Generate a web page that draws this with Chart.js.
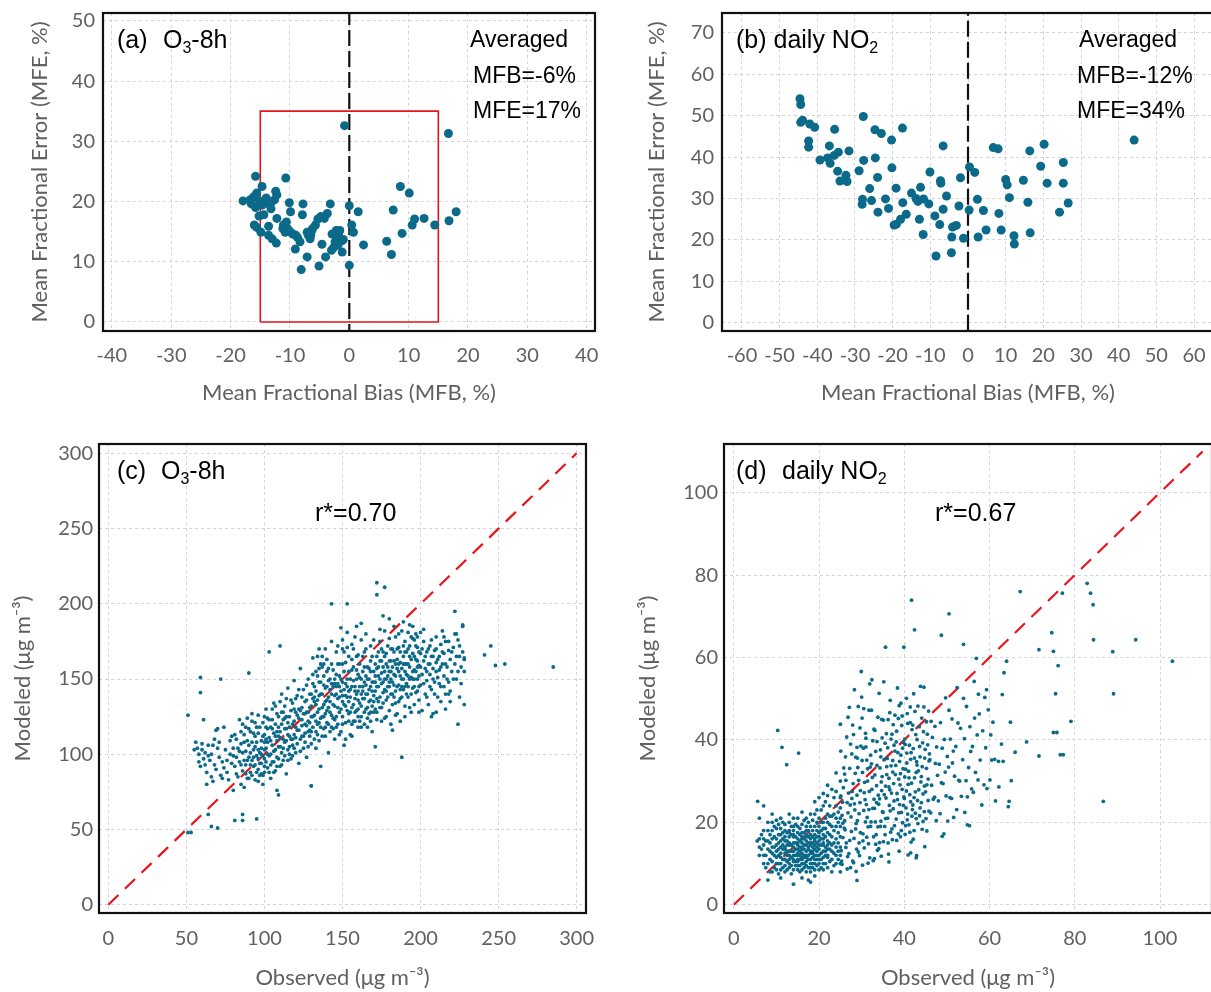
<!DOCTYPE html>
<html><head><meta charset="utf-8">
<script src="https://cdn.jsdelivr.net/npm/chart.js@4.4.1/dist/chart.umd.min.js"></script>
<style>
html,body{margin:0;padding:0;background:#fff;overflow:hidden;width:1211px;height:992px;position:relative;}
canvas{position:absolute;}
</style></head><body>
<canvas id="ca" style="left:0;top:0" width="605" height="410"></canvas>
<canvas id="cb" style="left:605px;top:0" width="620" height="410"></canvas>
<canvas id="cc" style="left:0;top:420px" width="605" height="572"></canvas>
<canvas id="cd" style="left:605px;top:420px" width="620" height="572"></canvas>
<script>
// ---------------- DATA ----------------
// (a) O3-8h: per-site [MFB %, MFE %]
const o3SiteBiasError = [
[-15.8,24.2],[-10.7,23.9],[-14.7,22.5],[-12.4,21.7],[-17.9,20.1],[-16.7,20.3],[-16.1,20.8],[-15.6,21.4],
[-15.1,20.0],[-14.4,19.8],[-13.9,19.7],[-13.2,19.8],[-12.6,20.3],[-12.2,21.1],[-15.8,19.0],[-14.7,19.4],
[-13.2,18.8],[-15.2,17.6],[-14.4,17.8],[-12.2,17.2],[-16.0,16.1],[-15.6,15.7],[-14.9,14.9],[-13.6,15.9],
[-13.6,14.4],[-13.0,13.8],[-12.3,13.1],[-10.1,19.8],[-9.9,18.3],[-10.6,16.6],[-11.1,16.1],[-10.4,15.5],
[-9.9,14.9],[-10.8,14.9],[-9.0,14.4],[-8.7,14.0],[-8.3,13.3],[-9.1,12.1],[-7.8,19.6],[-7.9,17.8],
[-7.1,14.9],[-6.9,14.4],[-6.6,13.8],[-6.3,15.2],[-5.7,16.1],[-5.3,17.1],[-4.8,17.5],[-4.2,17.2],
[-3.7,18.0],[-3.2,19.6],[-7.1,10.8],[-8.1,8.7],[-5.1,9.3],[-4.6,12.9],[-4.0,10.8],[-3.0,11.9],
[-2.6,12.4],[-2.4,13.3],[-2.1,14.0],[-1.8,14.7],[-2.2,15.2],[-1.6,15.2],[-1.2,13.5],[-1.0,13.7],
[-1.2,11.6],[0.0,19.3],[0.4,16.1],[0.7,14.9],[0.0,9.4],[1.5,18.3],[2.4,12.8],[6.3,13.4],
[7.1,11.2],[7.4,18.6],[8.6,22.5],[10.1,21.4],[8.9,14.7],[10.6,16.1],[11.0,17.1],[12.6,17.2],
[14.4,16.1],[16.8,16.8],[18.0,18.3],[-0.8,32.6],[16.7,31.3],[-11.2,15.5],[-10.2,15.2],[-9.5,14.6],
[-6.2,15.5],[-6.5,14.4],[-2.9,14.6],[-1.9,12.8],[-16.5,19.6],[-14.0,20.6]
];
// (b) daily NO2: per-site [MFB %, MFE %]
const no2SiteBiasError = [
[-44.6,54.1],[-44.4,52.7],[-43.9,48.9],[-44.4,48.4],[-42.0,48.0],[-40.7,47.2],[-42.3,43.9],[-42.3,42.4],
[-39.3,39.3],[-37.3,39.8],[-36.8,42.7],[-36.6,38.5],[-35.4,46.7],[-35.5,40.4],[-34.4,41.2],[-34.6,36.6],
[-34.0,34.2],[-32.4,35.6],[-32.1,34.1],[-31.6,41.5],[-28.9,36.7],[-27.8,49.8],[-27.7,39.2],[-28.0,29.8],
[-28.1,28.6],[-26.1,32.4],[-25.6,29.5],[-24.7,46.6],[-24.6,39.8],[-24.0,35.1],[-23.9,26.7],[-23.0,45.7],
[-21.9,29.9],[-21.1,27.6],[-20.3,44.1],[-20.2,37.4],[-19.6,23.6],[-19.0,23.8],[-19.1,32.5],[-17.9,25.0],
[-17.4,47.0],[-17.3,29.0],[-16.4,26.2],[-15.0,31.3],[-13.8,30.0],[-13.3,29.3],[-12.6,32.7],[-12.9,25.0],
[-11.9,21.3],[-11.8,29.9],[-10.4,28.7],[-10.1,36.4],[-8.8,25.8],[-8.5,16.1],[-7.5,23.7],[-7.3,34.3],
[-7.2,33.7],[-6.6,42.7],[-6.6,27.4],[-5.7,30.6],[-4.3,20.7],[-4.4,16.9],[-4.1,23.1],[-3.1,23.5],
[-2.4,28.2],[-2.0,35.0],[-1.2,20.4],[0.4,37.6],[0.3,27.2],[1.8,36.3],[2.5,29.8],[2.7,20.7],
[4.1,27.1],[4.8,22.4],[6.7,42.3],[8.0,42.0],[8.2,26.4],[8.8,22.4],[10.0,34.6],[10.4,33.3],
[11.0,30.2],[12.2,21.0],[12.3,19.0],[14.7,34.4],[15.9,29.1],[16.4,41.5],[16.5,21.7],[19.3,37.8],
[20.2,43.1],[21.0,33.7],[24.3,26.7],[25.3,38.7],[25.3,33.7],[26.6,28.9],[44.1,44.1]
];
// (c) O3-8h: [observed, modeled] ug/m3
const o3ObsMod = [
[51,126],[56,108],[57,104],[58,100],[59,92],[60,103],[61,97],[62,101],[63,80],[64,106],[65,96],[66,85],[66,100],[67,82],[68,93],[69,116],[70,104],[71,98],[72,86],[73,95],[74,91],[75,103],[76,88],[77,83],[78,109],[79,94],[80,76],[80,99],[81,113],[82,87],[83,104],[84,95],[84,123],[85,80],[85,115],[86,89],[86,101],[87,78],[87,108],[88,118],[88,93],[89,84],[89,124],[90,98],[90,154],[90,106],[91,88],[91,115],[92,96],[92,122],[93,92],[93,103],[94,83],[94,112],[95,99],[95,118],[96,90],[96,126],[97,86],[97,101],[98,109],[98,94],[99,80],[99,121],[100,97],[100,88],[100,113],[101,104],[101,130],[102,91],[102,117],[103,99],[103,168],[104,84],[104,109],[105,123],[105,95],[106,102],[106,134],[107,112],[107,89],[108,98],[108,127],[109,118],[109,105],[110,92],[110,172],[110,115],[111,140],[111,101],[112,123],[112,96],[113,108],[113,132],[114,117],[114,87],[115,103],[115,144],[116,112],[116,125],[117,97],[117,136],[118,120],[118,106],[119,113],[119,149],[120,128],[120,101],[121,116],[121,139],[122,94],[122,124],[123,110],[123,157],[124,131],[124,119],[125,104],[125,143],[126,114],[126,127],[127,136],[127,98],[128,122],[128,150],[129,112],[129,131],[130,107],[130,140],[130,79],[131,118],[131,164],[132,126],[132,145],[133,115],[133,133],[134,120],[134,152],[135,109],[135,139],[135,170],[136,124],[136,92],[137,131],[137,158],[138,117],[138,146],[139,127],[139,112],[140,136],[140,163],[140,121],[141,101],[141,149],[142,128],[142,115],[143,140],[143,175],[144,124],[144,156],[145,132],[145,110],[146,145],[146,168],[147,120],[147,137],[148,128],[148,152],[149,115],[149,184],[150,139],[150,125],[150,160],[151,133],[151,106],[152,147],[152,121],[153,171],[153,138],[154,127],[154,155],[155,143],[155,113],[156,131],[156,163],[157,122],[157,149],[158,137],[158,178],[159,129],[159,156],[160,142],[160,118],[160,166],[161,134],[161,151],[162,125],[162,187],[163,145],[163,137],[164,158],[164,120],[165,140],[165,170],[166,131],[166,150],[167,143],[167,127],[168,162],[168,136],[169,148],[169,115],[170,155],[170,139],[170,176],[171,130],[171,160],[172,145],[172,123],[173,152],[173,168],[174,138],[174,183],[175,147],[175,131],[176,158],[176,141],[177,165],[177,124],[178,150],[178,136],[179,172],[179,145],[180,155],[180,129],[180,190],[181,140],[181,162],[182,148],[182,133],[183,168],[183,153],[184,142],[184,178],[185,157],[185,127],[186,146],[186,171],[187,161],[187,137],[188,150],[188,182],[189,165],[189,143],[190,155],[190,132],[190,175],[191,160],[191,147],[192,170],[192,138],[193,158],[193,186],[194,151],[194,128],[195,167],[195,144],[196,176],[196,156],[197,141],[197,163],[198,150],[198,171],[199,136],[199,159],[200,167],[200,146],[200,181],[201,153],[201,129],[202,162],[202,175],[203,140],[203,157],[204,168],[204,149],[205,160],[205,133],[206,172],[206,153],[207,143],[207,165],[208,157],[208,127],[209,169],[209,148],[210,161],[210,178],[211,151],[211,138],[212,165],[212,156],[213,173],[213,145],[214,160],[214,182],[215,152],[215,167],[216,140],[216,175],[217,158],[218,169],[218,148],[219,163],[220,155],[221,171],[222,160],[223,150],[224,176],[225,165],[226,158],[227,185],[228,163],
[145,150],[147,160],[149,142],[151,168],[153,150],[155,128],[157,170],[159,140],[161,122],[163,165],[165,152],[167,157],[169,132],[171,148],[173,135],[175,162],[177,143],[179,158],[181,150],[183,138],[185,170],[187,152],[189,160],[191,140],[193,165],[195,150],[197,172],[199,145],[176,168],[178,160],[180,148],[182,170],[184,160],[186,135],[188,145],[190,168],[192,152],[194,178],[196,145],[198,162],[142,135],[144,145],[146,125],[148,138],[150,148],[152,132],[154,142],[156,120],[158,145],[160,130],[162,140],[164,148],[166,124],[168,145],[170,128],[172,157],[174,150],[130,125],[132,135],[134,128],[136,140],[138,125],[140,145],[128,115],[126,120],[124,112],[122,130],[120,118],[118,110],[116,100],[114,125],[112,110],[110,105],[108,115],[106,95],[104,100],[102,108],[100,103],[98,100],[96,97],[94,105],
[285,158],[248,159],[254,160],[241,166],[245,172],[228,164],[227,186],[222,195],[223,180],[228,133],[225,138],[224,120],[218,140],[188,98],[182,116],[171,105],[172,214],[177,211],[172,206],[143,200],[153,200],
[51,48],[53,48],[64,60],[66,52],[70,51],[81,56],[86,56],[86,60],[95,57],[59,151],[59,141],[61,123],[72,150],[70,117],[130,79],[108,76],[109,73],
[55,103],[58,95],[60,107],[62,93],[64,99],[67,106],[69,90],[71,108],[73,84],[76,96],[78,100],[79,112],[74,118],[68,110],[63,88],
[80,104],[81,92],[82,110],[82,98],[83,85],[84,102],[85,93],[85,107],[86,120],[87,96],[87,113],[88,87],[88,102],[89,109],[89,96],[90,84],[90,117],[91,101],[91,93],[92,108],[92,86],[93,114],[93,98],[94,121],[94,93],[95,88],[95,108],[96,103],[96,114],[97,94],[97,118],[98,87],[98,104],[99,112],[99,99],[100,125],[100,92],[92,127],[96,82],[99,86],
[100,108],[101,95],[101,118],[102,124],[102,100],[103,111],[103,88],[104,118],[104,93],[105,106],[105,130],[106,114],[106,88],[107,120],[107,103],[108,109],[108,92],[109,125],[109,97],[110,111],[110,135],[111,120],[111,93],[112,104],[112,128],[113,99],[113,117],[114,109],[114,137],[115,96],[115,121],[116,118],[116,105],[117,129],[117,110],[118,99],[118,134],[119,122],[119,104],[120,111],[120,137],[121,126],[121,107],[122,116],[122,143],[123,102],[123,129],[124,123],[124,138],[125,112],[125,127],[103,123],[107,132],[111,128],[115,113],[119,130],[113,124],[109,112],[105,117],[101,110],
[126,135],[126,108],[127,119],[127,146],[128,128],[128,105],[129,140],[129,121],[130,132],[130,115],[131,147],[131,125],[132,110],[132,138],[133,155],[133,122],[134,136],[134,113],[135,130],[135,148],[136,118],[136,160],[137,125],[137,140],[138,133],[138,152],[139,118],[139,144],[140,129],[140,155],[141,138],[141,120],[142,150],[142,143],[143,126],[143,160],[144,133],[144,117],[145,147],[145,139],[133,142],[135,121],[137,112],[139,135],[141,131],[143,118],[127,128],[129,116],[131,137],[133,104],[135,157],[137,165],[139,170],[141,157],[143,147],[145,123],[131,153],[134,165],[136,148],[138,160],
[146,140],[146,153],[147,131],[147,147],[148,145],[148,160],[149,130],[149,150],[150,135],[150,170],[151,143],[151,155],[152,139],[152,161],[153,129],[153,145],[154,135],[154,165],[155,150],[155,138],[156,145],[156,156],[157,133],[157,158],[158,142],[158,128],[159,150],[159,165],[160,136],[160,153],[161,145],[161,160],[162,132],[162,150],[163,142],[163,155],[164,137],[164,168],[165,146],[165,130],[166,158],[166,140],[167,150],[167,135],[168,155],[168,128],[169,142],[169,165],[170,148],[170,135],[146,118],[148,113],[150,120],[152,110],[154,122],[156,112],[158,122],[160,125],[162,118],[164,128],[166,118],[168,122],[150,176],[153,181],[156,173],[159,185],[162,176],[165,180],[168,172],[147,172],
[171,152],[171,142],[172,165],[172,137],[173,145],[173,158],[174,162],[174,131],[175,154],[175,170],[176,148],[176,134],[177,155],[177,150],[178,142],[178,167],[179,152],[179,138],[180,162],[180,145],[181,155],[181,170],[182,140],[182,158],[183,146],[183,162],[184,152],[184,134],[185,163],[185,145],[186,155],[186,160],[187,143],[187,168],[188,157],[188,138],[189,150],[189,172],[190,145],[190,160],[191,153],[191,168],[192,145],[192,160],[193,150],[193,172],[194,140],[194,163],[195,155],[195,177],[196,150],[196,165],[197,155],[197,180],[198,142],[198,158],[199,152],[199,168],[172,128],[175,122],[178,125],[181,120],[184,126],[187,122],[190,125],[193,131],[196,133],[199,128],[174,175],[177,182],[180,177],[183,185],[186,180],[189,188],[192,181],[195,185],[198,178],[176,192],
[200,158],[201,170],[202,147],[202,183],[203,165],[204,155],[204,138],[205,170],[206,160],[206,145],[207,176],[208,150],[208,165],[209,140],[210,155],[210,170],[211,163],[212,147],[213,158],[214,168],[215,145],[215,178],[216,160],[217,150],[218,175],[219,142],[220,168],[221,150],[222,180],[223,165],[224,155],[225,172],[226,147],[227,168],[228,155],[207,125],[210,128],[213,135],[216,130],[219,135]
];
// (d) daily NO2: [observed, modeled] ug/m3
const no2ObsMod = [
[5.5,15.5],[6,14],[6.5,17],[7,12],[7,16],[7.5,9],[8,13.5],[8,18],[8.5,11],[8.5,15],[9,8],[9,14],[9,20],[9.5,12],[9.5,16.5],[10,10],[10,13],[10,18.5],[10.5,7.5],[10.5,15],[11,11.5],[11,14],[11,21],[11.5,9],[11.5,16],[12,12.5],[12,18],[12,8],[12.5,14.5],[12.5,10.5],[13,16.5],[13,13],[13,20],[13.5,7.5],[13.5,11.5],[14,15],[14,18],[14,12],[14.5,9.5],[14.5,13.5],[15,16],[15,11],[15,21],[15.5,14],[15.5,8],[16,12.5],[16,17.5],[16,15],[16.5,10],[16.5,13.5],[17,19],[17,11.5],[17,14.5],[17.5,6],[17.5,16.5],[18,12.5],[18,22],[18,9],[18.5,14],[18.5,18],[19,11],[19,15.5],[19,25],[19.5,13],[19.5,20],[20,8.5],[20,16.5],[20,12],[20.5,23],[20.5,14.5],[21,10],[21,18.5],[21,27],[21.5,13],[21.5,21],[22,15.5],[22,11.5],[22,29],[22.5,17],[22.5,24],[23,13],[23,19],[23,8],[23.5,26],[23.5,15],[24,21],[24,12],[24,32],[24.5,17.5],[25,14],[25,23.5],[25,10],
[10.5,12],[11,17],[11.5,13.5],[12,15.5],[12.5,12],[13,10],[13,14.5],[13.5,17],[14,10.5],[14,16.5],[14.5,12],[15,13.5],[15,9.5],[15.5,17],[15.5,12],[16,10],[16,14],[16.5,16],[16.5,11.5],[17,13],[17,9.5],[17.5,12],[17.5,15],[18,11],[18,14.5],[18,16],[18.5,12.5],[18.5,10],[19,13.5],[19,17],[19.5,11],[19.5,15],[20,13.5],[20,19],[20.5,11],[21,14.5],[21,16],[21.5,12],[22,13.5],[22,20],[12,11],[13,12],[14,13],[15,15],[16,16],[17,17],[11,10],[12,14],[13,18],[14,19],[15,12],[16,11],
[6,21],[7,24],[9,22],[10,20.5],[8,6],[11,6.5],[14,5],[16,6.5],[19,7],[18,5.5],
[6,12],[6,16],[6.5,13.5],[7,10],[7,14.5],[7,18],[7.5,12],[7.5,15.5],[8,10],[8,15.5],[8,20],[8.5,8],[8.5,13],[8.5,17],[9,10.5],[9,12.5],[9,16],[9,18],[9.5,9],[9.5,14],[9.5,19],[10,11.5],[10,14.5],[10,16],[10,8.5],[10.5,10],[10.5,13.5],[10.5,17],[10.5,19.5],[11,8.5],[11,12.5],[11,15.5],[11,18.5],[11.5,11],[11.5,14.5],[11.5,17.5],[11.5,20],[12,9.5],[12,13.5],[12,16.5],[12,19.5],[12.5,8.5],[12.5,13],[12.5,15.5],[12.5,17.5],[13,9],[13,11],[13,15],[13,17.5],[13,22],[13.5,9.5],[13.5,13],[13.5,14.5],[13.5,19],[14,8.5],[14,11],[14,14],[14,17],[14,21],[14.5,10.5],[14.5,15],[14.5,16.5],[14.5,19.5],[15,8.5],[15,10.5],[15,12.5],[15,14.5],[15,17.5],[15,19],[15.5,9.5],[15.5,11],[15.5,13],[15.5,15.5],[15.5,18.5],[16,8.5],[16,11.5],[16,13.5],[16,16.5],[16,19.5],[16,22.5],[16.5,9],[16.5,12],[16.5,14.5],[16.5,17.5],[16.5,20.5],[17,8],[17,10.5],[17,12],[17,15.5],[17,16.5],[17,18],[17,21],[17.5,9],[17.5,11],[17.5,13.5],[17.5,14],[17.5,18],[17.5,20],[18,8],[18,10],[18,13],[18,15],[18,17],[18,19],[18.5,9],[18.5,11.5],[18.5,13],[18.5,15],[18.5,16.5],[18.5,20.5],[19,8.5],[19,10],[19,12],[19,14.5],[19,16],[19,19],[19,22],[19.5,9.5],[19.5,12],[19.5,14],[19.5,16.5],[19.5,18],[19.5,23],[20,10],[20,11],[20,14.5],[20,15.5],[20,17.5],[20,21],[20,26],[20.5,9],[20.5,12.5],[20.5,16],[20.5,18],[20.5,20],[21,8.5],[21,11.5],[21,13],[21,15],[21,17],[21,20],[21,24],[21.5,10],[21.5,14],[21.5,16.5],[21.5,18.5],[21.5,25],[22,9],[22,12],[22,14.5],[22,17.5],[22,22],[22,26.5],[22.5,10.5],[22.5,13.5],[22.5,15],[22.5,19.5],[22.5,21.5],[23,11],[23,14.5],[23,16.5],[23,21.5],[23,28],[23.5,9.5],[23.5,12.5],[23.5,18],[23.5,22],[24,10],[24,14],[24,16],[24,19],[24,24],[24,27.5],[24.5,11],[24.5,13],[24.5,15],[24.5,20],[24.5,22.5],[25,8],[25,12],[25,16.5],[25,19],[25,21],[25,26],[25,30],
[25.2,13.1],[25.9,18.6],[25.5,24.9],[25.1,37.3],[25.7,28.4],[25.4,21.7],[25.8,33.2],[25.3,10.6],[25.6,16.3],[25.0,43.8],
[26.7,11.7],[26.4,15.0],[26.0,20.4],[26.6,24.8],[26.3,30.2],[26.8,45.5],[26.2,35.9],[26.9,27.1],[26.5,40.7],[26.1,18.2],
[27.4,9.0],[27.0,12.4],[27.6,17.8],[27.3,24.2],[27.8,27.5],[27.2,33.1],[27.9,43.6],[27.5,21.3],[27.1,47.9],[27.7,36.6],
[28.4,23.0],[28.0,29.4],[28.6,35.8],[28.3,52.2],[28.8,13.5],[28.2,16.1],[28.9,26.6],[28.5,31.9],[28.1,41.3],[28.7,19.7],
[29.4,15.0],[29.0,20.4],[29.6,24.8],[29.3,30.2],[29.8,38.5],[29.2,48.1],[29.9,56.6],[29.5,11.9],[29.1,33.3],[29.7,27.7],
[30.4,38.0],[30.0,50.4],[30.6,13.8],[30.3,17.2],[30.8,25.5],[30.2,32.1],[30.9,41.6],[30.5,22.9],[30.1,45.3],[30.7,29.7],
[31.4,33.0],[31.0,40.4],[31.6,14.8],[31.3,21.2],[31.8,27.5],[31.2,35.1],[31.9,53.6],[31.5,18.9],[31.1,24.3],[31.7,47.2],
[32.4,28.0],[32.0,33.4],[32.6,39.8],[32.3,47.2],[32.8,16.5],[32.2,20.1],[32.9,25.6],[32.5,30.9],[32.1,36.3],[32.7,10.7],
[33.4,17.0],[33.0,23.4],[33.6,33.8],[33.3,37.2],[33.8,45.5],[33.2,20.1],[33.9,26.6],[33.5,28.9],[33.1,42.3],[33.7,13.2],
[34.4,19.0],[34.0,24.4],[34.6,29.8],[34.3,33.2],[34.8,40.5],[34.2,15.1],[34.9,22.6],[34.5,35.9],[34.1,51.3],[34.7,27.7],
[35.4,19.0],[35.0,22.4],[35.6,28.8],[35.3,35.2],[35.8,41.5],[35.2,54.1],[35.9,31.6],[35.5,17.0],[35.1,44.8],[35.7,25.9],
[36.3,12.3],[36.8,17.6],[36.1,21.0],[36.6,27.9],[36.4,30.7],[36.0,35.5],[36.9,40.2],[36.2,44.9],[36.7,49.6],[36.5,24.1],
[37.2,15.8],[37.7,19.2],[37.4,23.3],[37.0,27.1],[37.9,31.6],[37.3,35.0],[37.6,38.7],[37.1,41.4],[37.8,46.0],[37.5,29.4],
[38.6,17.2],[38.1,20.8],[38.9,24.3],[38.3,27.0],[38.7,30.5],[38.0,33.8],[38.5,36.9],[38.2,42.1],[38.8,48.3],[38.4,52.6],
[39.1,16.5],[39.6,19.9],[39.3,22.4],[39.9,26.2],[39.0,29.1],[39.7,33.0],[39.2,36.3],[39.8,39.4],[39.4,43.5],[39.5,45.8],
[40.2,17.1],[40.7,20.6],[40.4,23.5],[40.0,25.8],[40.9,29.2],[40.3,32.9],[40.6,36.8],[40.1,40.2],[40.8,44.0],[40.5,50.1],
[41.6,15.2],[41.1,19.4],[41.9,23.1],[41.3,26.7],[41.7,29.5],[41.0,32.4],[41.5,35.3],[41.2,38.7],[41.8,42.5],[41.4,48.0],
[42.3,18.0],[42.8,20.9],[42.0,24.2],[42.6,27.4],[42.4,30.8],[42.9,34.7],[42.1,37.9],[42.7,41.3],[42.5,46.9],[42.2,51.2],
[43.6,21.6],[43.1,25.3],[43.9,29.8],[43.3,32.5],[43.7,35.9],[43.0,40.1],[43.5,43.2],[43.2,48.2],[43.8,53.0],
[44.4,20.2],[44.0,24.8],[44.7,28.8],[44.2,33.5],[44.9,37.7],[44.5,42.0],[44.1,45.3],[44.6,52.8],
[45.3,17.9],[45.8,22.7],[45.0,27.4],[45.6,30.5],[45.2,33.1],[45.9,36.6],[45.4,41.4],[45.7,47.0],
[46.2,22.3],[46.8,25.6],[46.4,29.0],[46.0,35.2],[46.6,40.6],[46.3,44.5],
[47.5,20.4],[47.1,26.1],[47.8,31.4],[47.3,34.3],[47.6,38.3],[47.2,43.3],
[48.4,22.1],[48.0,25.2],[48.7,29.6],[48.2,34.1],[48.9,38.0],[48.5,44.2],
[49.3,17.2],[49.8,26.4],[49.1,29.4],[49.6,32.2],[49.4,40.1],[49.7,50.2],
[50.2,20.3],[50.7,26.0],[50.4,33.4],[50.1,36.0],[50.8,40.2],[50.5,47.2],
[51.6,21.2],[51.1,25.8],[51.8,31.2],[51.3,34.4],[51.5,37.3],[51.2,45.1],
[52.3,23.1],[52.8,30.2],[52.1,38.4],[52.6,44.1],[52.4,52.7],
[53.4,26.3],[53.0,30.0],[53.7,35.2],[53.2,42.8],[53.9,50.1],
[54.2,22.4],[54.8,26.2],[54.5,30.1],[54.1,40.3],[54.6,48.1],
[55.3,19.2],[55.8,28.1],[55.1,33.3],[55.6,37.2],[55.4,43.2],
[56.2,27.3],[56.7,32.1],[56.0,38.4],[56.5,45.3],[56.4,54.2],
[57.3,30.3],[57.8,35.1],[57.1,41.2],[57.6,46.3],[57.4,51.1],
[58.2,24.2],[58.7,29.1],[58.4,42.2],[58.9,50.3],
[59.4,28.2],[59.1,38.1],[59.7,47.3],[59.3,52.2],
[60.1,30.3],[60.5,35.1],[60.3,41.2],[60.8,44.3],[61.2,35.3],[61.4,25.2],[62.1,34.8],
[25.6,19.8],[25.1,26.4],[26.3,13.9],[26.8,22.3],[26.0,31.7],[27.2,15.6],[27.7,25.8],[27.4,39.0],[28.1,10.2],[28.6,18.4],[28.3,24.5],[28.9,38.2],[29.2,12.8],[29.7,17.5],[29.4,22.1],[29.0,35.6],[29.6,42.9],[30.3,15.5],[30.9,20.1],[30.6,27.2],[30.1,35.0],[30.5,47.6],[31.2,16.4],[31.7,23.1],[31.4,30.0],[31.0,38.3],[31.9,11.4],[32.1,19.0],[32.6,23.4],[32.3,34.2],[32.9,42.6],[32.4,54.6],[33.3,14.7],[33.8,18.9],[33.5,24.8],[33.1,31.5],[33.6,39.6],[34.0,13.6],[34.5,20.3],[34.2,25.7],[34.8,31.1],[34.4,37.6],[34.7,45.0],[35.1,15.3],[35.6,20.9],[35.3,26.7],[35.9,33.5],[35.5,39.2],[36.2,15.0],[36.7,22.8],[36.4,28.6],[36.9,33.7],[36.1,38.1],[36.6,46.6],[37.1,18.4],[37.6,25.2],[37.3,32.2],[37.8,37.3],[37.4,43.7],[38.2,15.6],[38.7,22.3],[38.4,25.5],[38.9,34.8],[38.1,39.5],[38.6,45.2],[39.3,18.0],[39.8,24.1],[39.5,28.0],[39.1,31.8],[39.6,38.0],[39.2,48.9],[40.3,19.2],[40.8,22.0],[40.5,27.6],[40.1,31.0],[40.6,34.4],[40.2,38.9],[40.7,46.4],[41.3,17.6],[41.8,21.5],[41.5,25.0],[41.1,30.8],[41.6,36.9],[41.4,44.2],[42.1,15.9],[42.6,22.2],[42.3,26.0],[42.8,32.1],[42.4,35.6],[42.0,43.6],[43.2,19.7],[43.7,23.5],[43.4,27.9],[43.0,33.9],[43.6,38.4],[44.2,18.3],[44.7,22.6],[44.4,26.9],[44.0,31.1],[44.8,35.6],[44.3,39.3],[44.6,48.0],[45.1,20.9],[45.6,25.3],[45.3,29.1],[45.8,34.9],[45.5,38.8],[45.2,44.4],
[25.4,9.8],[26.6,8.7],[27.9,10.6],[28.7,8.1],[30.2,9.6],[31.5,10.1],[33.0,11.2],[34.6,11.8],[36.4,10.4],[38.8,13.0],[40.9,12.1],[42.9,11.9],[44.8,14.1],
[102.9,59.1],[94.3,64.3],[88.9,61.4],[89.1,51.2],[86.7,25.1],[82.9,78.0],[83.7,75.6],[84.3,72.8],[84.4,64.3],[77.1,75.6],[74.6,66.0],[75.0,61.5],[76.1,58.0],[75.5,51.2],[75.0,41.8],[75.8,41.8],[76.6,36.4],[77.3,36.4],[71.6,61.9],[71.6,36.1],[68.7,39.5],[67.2,76.0],[79.1,44.5],[64.0,59.1],[63.4,56.3],[63.0,51.0],[64.9,44.3],[66.0,37.0],[65.1,30.1],[64.6,25.1],[64.4,23.8],[62.2,28.6],[62.8,39.0],[63.2,34.8],
[41.7,73.9],[50.5,70.6],[48.7,65.4],[42.4,66.7],[39.9,62.5],[35.6,62.5],[53.9,63.2],[56.9,59.8],[10.3,42.3],[5.6,25.1],[11.3,38.2],[12.4,34.0],[15.2,36.8],[28.9,5.9],[42.8,11.4],[41.5,12.6],[48.9,16.6],[54.8,19.4]
];
// reference lines / goal box
const zeroBias = [0, 0];
const goalMFB = [-15, -15, 15, 15, -15];
const goalMFE = [0, 35, 35, 0, 0];
const oneToOneC = [0, 300];
const oneToOneD = [0, 110];
// axis settings [min, max, step]
const axisA = {x:[-41.5, 41.4, 10], y:[-1.5, 51.3, 10]};
const axisB = {x:[-65.3, 65.3, 10], y:[-2.0, 74.8, 10]};
const axisC = {x:[-6, 306, 50], y:[-5.5, 306.2, 50]};
const axisD = {x:[-2.3, 112.2, 20], y:[-2.0, 111.8, 20]};

// ---------------- RENDER ----------------
const PT = '#0b6a89';
const TICK_FONT = {family:'Lato', size:20};
const TITLE_FONT = {family:'Lato', size:22};
const GRAY = '#606060';
const GRID = '#d2d4dc';

const frame = {
  id:'frame',
  afterDraw(chart, args, opts){
    const {ctx, chartArea:a} = chart;
    ctx.save();
    ctx.strokeStyle = '#111'; ctx.lineWidth = 2.2;
    ctx.strokeRect(a.left, a.top, a.right - a.left, a.bottom - a.top);
    ctx.fillStyle = '#000';
    ctx.textBaseline = 'alphabetic';
    for (const t of (opts.texts || [])) {
      let x = t.x;
      for (const r of t.runs) {
        const sub = r[1] === 'sub';
        const size = sub ? Math.round(t.size * 0.64) : t.size;
        ctx.font = size + 'px "Liberation Sans", Arial, sans-serif';
        ctx.fillText(r[0], x, t.y + (sub ? t.size * 0.2 : 0));
        x += ctx.measureText(r[0]).width;
      }
    }
    ctx.restore();
  }
};

function toPts(pairs){ return pairs.map(p => ({x:p[0], y:p[1]})); }
function zip(xs, ys){ return xs.map((v,i) => ({x:v, y:ys[i]})); }

function scaleCfg(rng, horiz, o){
  return {
    type:'linear', position: horiz ? 'bottom' : 'left',
    min:rng[0], max:rng[1],
    ticks:{stepSize:rng[2], includeBounds:false, autoSkip:false, maxRotation:0, padding:o.tickPad,
           font:TICK_FONT, color:GRAY, callback:v => String(v)},
    grid:{color:GRID, lineWidth:1, drawTicks:false},
    border:{display:false, dash:[3,3]},
    title:{display:true, text:o.title, font:TITLE_FONT, color:GRAY, padding:o.titlePad},
    afterFit(s){
      if (horiz) s.height = o.size; else s.width = o.size;
      s.paddingLeft = 0; s.paddingRight = 0; s.paddingTop = 0; s.paddingBottom = 0;
    }
  };
}

function build(id, datasets, ax, lay, texts){
  new Chart(document.getElementById(id), {
    type:'scatter',
    data:{datasets},
    options:{
      responsive:false, animation:false, devicePixelRatio:1,
      layout:{padding:{left:0, top:lay.top, right:lay.right, bottom:0}},
      plugins:{legend:{display:false}, tooltip:{enabled:false}, frame:{texts}},
      scales:{
        x: scaleCfg(ax.x, true, lay.x),
        y: scaleCfg(ax.y, false, lay.y)
      }
    },
    plugins:[frame]
  });
}

const bigPt = (data) => ({data, backgroundColor:PT, borderColor:PT, borderWidth:0, pointRadius:4.5});
const smallPt = (data) => ({data, backgroundColor:PT, borderColor:PT, borderWidth:0, pointRadius:1.9});
const vline = (x, rng) => ({data:zip([x[0], x[1]], [rng[0]-5, rng[1]+5]), showLine:true, pointRadius:0,
   borderColor:'#111', borderWidth:2.2, borderDash:[16,5]});

// (a)
build('ca', [
  bigPt(toPts(o3SiteBiasError)),
  vline(zeroBias, axisA.y),
  {data:zip(goalMFB, goalMFE), showLine:true, pointRadius:0, borderColor:'#e8141a', borderWidth:1.6}
], axisA, {top:13, right:10,
  x:{size:79, tickPad:13, title:'Mean Fractional Bias (MFB, %)', titlePad:{top:0,bottom:4}},
  y:{size:103, tickPad:8, title:'Mean Fractional Error (MFE, %)', titlePad:{top:27,bottom:0}}},
  [
   {x:117, y:48, size:25, runs:[['(a)']]},
   {x:163, y:48, size:25, runs:[['O'],['3','sub'],['-8h']]},
   {x:470, y:47, size:23, runs:[['Averaged']]},
   {x:473, y:83, size:23, runs:[['MFB=-6%']]},
   {x:473, y:118, size:23, runs:[['MFE=17%']]}
  ]);

// (b)
build('cb', [
  bigPt(toPts(no2SiteBiasError)),
  vline(zeroBias, axisB.y)
], axisB, {top:13, right:11,
  x:{size:79, tickPad:13, title:'Mean Fractional Bias (MFB, %)', titlePad:{top:0,bottom:4}},
  y:{size:117, tickPad:8, title:'Mean Fractional Error (MFE, %)', titlePad:{top:39,bottom:0}}},
  [
   {x:131, y:48, size:25, runs:[['(b) daily NO'],['2','sub']]},
   {x:474, y:47, size:23, runs:[['Averaged']]},
   {x:472, y:83, size:23, runs:[['MFB=-12%']]},
   {x:472, y:118, size:23, runs:[['MFE=34%']]}
  ]);

// (c)
build('cc', [
  smallPt(toPts(o3ObsMod)),
  {data:zip(oneToOneC, oneToOneC), showLine:true, pointRadius:0, borderColor:'#e8141a', borderWidth:2.2, borderDash:[14,9]}
], axisC, {top:24, right:19,
  x:{size:79, tickPad:14, title:'Observed (\u03bcg m\u207b\u00b3)', titlePad:{top:0,bottom:1}},
  y:{size:99, tickPad:6, title:'Modeled (\u03bcg m\u207b\u00b3)', titlePad:{top:10,bottom:0}}},
  [
   {x:117, y:59, size:25, runs:[['(c)']]},
   {x:161, y:59, size:25, runs:[['O'],['3','sub'],['-8h']]},
   {x:315, y:101, size:25, runs:[['r*=0.70']]}
  ]);

// (d)
build('cd', [
  smallPt(toPts(no2ObsMod)),
  {data:zip(oneToOneD, oneToOneD), showLine:true, pointRadius:0, borderColor:'#e8141a', borderWidth:2.2, borderDash:[14,9]}
], axisD, {top:24, right:13,
  x:{size:79, tickPad:14, title:'Observed (\u03bcg m\u207b\u00b3)', titlePad:{top:0,bottom:1}},
  y:{size:119, tickPad:6, title:'Modeled (\u03bcg m\u207b\u00b3)', titlePad:{top:30,bottom:0}}},
  [
   {x:131, y:59, size:25, runs:[['(d)']]},
   {x:177, y:59, size:25, runs:[['daily NO'],['2','sub']]},
   {x:330, y:101, size:25, runs:[['r*=0.67']]}
  ]);
</script>
</body></html>
